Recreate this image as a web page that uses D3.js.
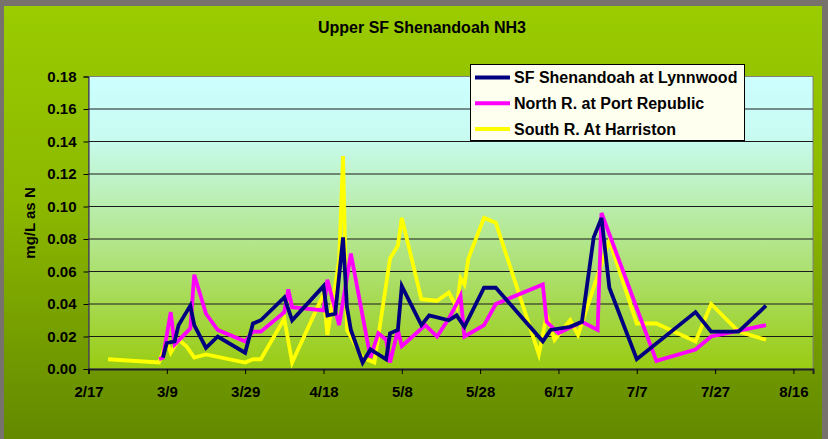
<!DOCTYPE html>
<html>
<head>
<meta charset="utf-8">
<script src="https://cdn.jsdelivr.net/npm/d3@7"></script>
<style>
body { margin: 0; background: #77736c; }
svg { display: block; }
text { font-family: "Liberation Sans", Arial, sans-serif; font-weight: bold; fill: #000; }
</style>
</head>
<body>
<div id="chart"></div>
<script>

// sample dates (M/D) and NH3 values, mg/L as N
var lynnwoodDates = ["3/8","3/9","3/11","3/12","3/15","3/16","3/19","3/22","3/29","3/31","4/2","4/8","4/10",
  "4/18","4/19","4/21","4/23","4/24","4/25","4/28","4/30","5/4","5/5","5/7","5/8","5/13","5/15","5/20","5/22",
  "5/24","5/29","6/1","6/13","6/15","6/20","6/23","6/26","6/28","6/30","7/7","7/22","7/26","8/2","8/9"];
var lynnwoodValues = [0.007,0.016,0.017,0.027,0.039,0.027,0.013,0.020,0.010,0.028,0.030,0.044,0.030,
  0.051,0.033,0.034,0.081,0.038,0.024,0.004,0.012,0.006,0.022,0.024,0.051,0.027,0.033,0.030,0.033,
  0.026,0.050,0.050,0.017,0.024,0.026,0.029,0.081,0.093,0.050,0.006,0.035,0.023,0.023,0.039];

var portRepublicDates = ["3/7","3/8","3/10","3/11","3/15","3/16","3/19","3/22","3/29","3/31","4/2","4/8","4/9",
  "4/10","4/18","4/19","4/22","4/25","4/30","5/2","5/4","5/5","5/7","5/8","5/14","5/17","5/20","5/22","5/23",
  "5/24","5/29","6/1","6/13","6/14","6/17","6/23","6/27","6/28","7/12","7/22","7/26","8/9"];
var portRepublicValues = [0.006,0.007,0.035,0.015,0.025,0.058,0.034,0.024,0.017,0.023,0.023,0.035,0.049,
  0.038,0.036,0.055,0.027,0.071,0.007,0.022,0.018,0.004,0.024,0.014,0.027,0.020,0.031,0.040,0.045,
  0.020,0.027,0.040,0.052,0.029,0.022,0.029,0.024,0.096,0.005,0.012,0.020,0.027];

var harristonDates = ["2/22","3/7","3/9","3/10","3/12","3/14","3/16","3/19","3/29","3/31","4/2","4/8","4/10",
  "4/18","4/19","4/22","4/23","4/24","4/28","5/1","5/5","5/7","5/8","5/13","5/17","5/20","5/22","5/23","5/24",
  "5/25","5/29","6/1","6/12","6/14","6/16","6/20","6/22","6/29","6/30","7/7","7/12","7/22","7/26","8/2","8/9"];
var harristonValues = [0.006,0.004,0.017,0.010,0.018,0.014,0.007,0.009,0.004,0.006,0.006,0.031,0.004,
  0.046,0.021,0.067,0.131,0.024,0.007,0.004,0.068,0.076,0.093,0.043,0.042,0.047,0.038,0.056,0.052,
  0.068,0.093,0.090,0.009,0.033,0.018,0.030,0.021,0.072,0.079,0.028,0.028,0.017,0.040,0.023,0.018];

var seriesNames = ["SF Shenandoah at Lynnwood", "North R. at Port Republic", "South R. At Harriston"];
var seriesColors = ["#000080", "#ff00ff", "#ffff00"];
var yTicks = [0, 0.02, 0.04, 0.06, 0.08, 0.10, 0.12, 0.14, 0.16, 0.18];
var xTickLabels = ["2/17","3/9","3/29","4/18","5/8","5/28","6/17","7/7","7/27","8/16"];

var width = 828, height = 439;
var plotLeft = 88.5, plotRight = 813, plotTop = 76.5, plotBottom = 369;

var parseDay = function(s) { return d3.timeParse("%m/%d/%Y")(s + "/2003"); };

var x = d3.scaleTime().domain([parseDay("2/17"), parseDay("8/21")]).range([plotLeft, plotRight]);
var y = d3.scaleLinear().domain([0, 0.18]).range([plotBottom, plotTop]);

var svg = d3.select("#chart").append("svg")
            .attr("width", width)
            .attr("height", height);

var defs = svg.append("defs");
var bgGrad = defs.append("linearGradient").attr("id", "bgGrad")
                 .attr("x1", 0).attr("y1", 0).attr("x2", 0).attr("y2", 1);
bgGrad.append("stop").attr("offset", "0%").attr("stop-color", "#9acc00");
bgGrad.append("stop").attr("offset", "45%").attr("stop-color", "#8cb800");
bgGrad.append("stop").attr("offset", "100%").attr("stop-color", "#628800");

var plotGrad = defs.append("linearGradient").attr("id", "plotGrad")
                   .attr("x1", 0).attr("y1", 0).attr("x2", 0).attr("y2", 1);
plotGrad.append("stop").attr("offset", "0%").attr("stop-color", "#ccffff");
plotGrad.append("stop").attr("offset", "20%").attr("stop-color", "#c8fcf2");
plotGrad.append("stop").attr("offset", "100%").attr("stop-color", "#99cc11");

// chart frame
svg.append("rect")
   .attr("x", 4).attr("y", 6)
   .attr("width", 818).attr("height", height)
   .attr("fill", "url(#bgGrad)");

// plot area
svg.append("rect")
   .attr("x", plotLeft).attr("y", plotTop)
   .attr("width", plotRight - plotLeft).attr("height", plotBottom - plotTop)
   .attr("fill", "url(#plotGrad)")
   .attr("stroke", "#808080")
   .attr("stroke-width", 1);

// gridlines
svg.append("g").selectAll("line")
   .data(yTicks.slice(1, -1))
   .enter()
   .append("line")
   .attr("x1", plotLeft).attr("x2", plotRight)
   .attr("y1", function(d) { return y(d); })
   .attr("y2", function(d) { return y(d); })
   .attr("stroke", "#1a1a1a")
   .attr("stroke-width", 1);

// axes
var yAxis = d3.axisLeft(y).tickValues(yTicks).tickFormat(d3.format(".2f")).tickSize(5).tickPadding(7);
var gy = svg.append("g").attr("transform", "translate(" + plotLeft + ",0)").call(yAxis);
gy.selectAll("text").style("font-size", "15px");

var xAxis = d3.axisBottom(x)
              .tickValues(xTickLabels.map(parseDay))
              .tickFormat(function(d) { return (d.getMonth() + 1) + "/" + d.getDate(); })
              .tickSize(5).tickPadding(12);
var gx = svg.append("g").attr("transform", "translate(0," + plotBottom + ")").call(xAxis);
gx.selectAll("text").style("font-size", "15px");
gx.select(".domain").attr("stroke", "#333").attr("stroke-width", 2);
svg.selectAll(".domain").attr("stroke", "#222");

// lines
var series = [
  {dates: lynnwoodDates, values: lynnwoodValues},
  {dates: portRepublicDates, values: portRepublicValues},
  {dates: harristonDates, values: harristonValues}
];
var line = d3.line()
             .x(function(d) { return x(d.date); })
             .y(function(d) { return y(d.value); });

// yellow drawn last (on top), then magenta, navy at bottom
[2, 1, 0].forEach(function(i) {
  var pts = series[i].dates.map(function(s, j) { return {date: parseDay(s), value: series[i].values[j]}; });
  svg.append("path")
     .datum(pts)
     .attr("fill", "none")
     .attr("stroke", seriesColors[i])
     .attr("stroke-width", 3.8)
     .attr("stroke-linejoin", "miter")
     .attr("d", line);
});

// title
svg.append("text")
   .attr("x", 422).attr("y", 33)
   .attr("text-anchor", "middle")
   .style("font-size", "16px")
   .text("Upper SF Shenandoah NH3");

// y axis title
svg.append("text")
   .attr("transform", "translate(35,223) rotate(-90)")
   .attr("text-anchor", "middle")
   .style("font-size", "15px")
   .text("mg/L as N");

// legend
var legend = svg.append("g");
legend.append("rect")
      .attr("x", 470.5).attr("y", 64.5)
      .attr("width", 274).attr("height", 76)
      .attr("fill", "#fffff0")
      .attr("stroke", "#000")
      .attr("stroke-width", 1);
seriesNames.forEach(function(name, i) {
  var cy = 77.5 + i * 25.8;
  legend.append("line")
        .attr("x1", 475).attr("x2", 510)
        .attr("y1", cy).attr("y2", cy)
        .attr("stroke", seriesColors[i])
        .attr("stroke-width", 4);
  legend.append("text")
        .attr("x", 514).attr("y", cy + 5.5)
        .style("font-size", "16px")
        .text(name);
});

</script>
</body>
</html>
